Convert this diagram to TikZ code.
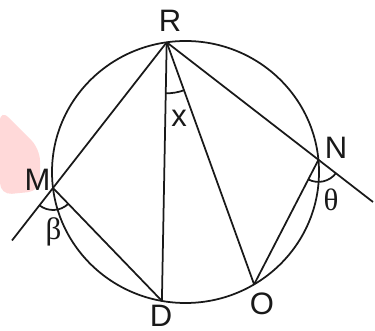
\documentclass[tikz,border=0pt]{standalone}
\usepackage{fontspec}
\setmainfont{Liberation Sans}
\newfontfamily\greekfont{Liberation Serif}
\usetikzlibrary{angles}
\tikzset{
  geo/.style={line width=1.75pt, black!90},
  lbl/.style={inner sep=0pt, text=black!90, font=\fontsize{31}{31}\selectfont},
  glbl/.style={inner sep=0pt, text=black!90, font=\fontsize{31}{31}\selectfont\greekfont},
  ang/.style={draw=black!90, line width=1.75pt}
}
\begin{document}
\begin{tikzpicture}[x=1pt,y=1pt]
\useasboundingbox (0,0) rectangle (375,331);
% faint watermark blob
\fill[red!15, rounded corners=12pt] (0,222) -- (40,182) -- (40,140) -- (0,136) -- cycle;
% circle
\coordinate (C) at (185.5,159);
\draw[geo] (C) ellipse [x radius=133.5pt, y radius=131pt];
% points
\coordinate (R) at (166.7,288.7);
\coordinate (M) at (53.0,143.0);
\coordinate (D) at (161.9,30.1);
\coordinate (O) at (254.1,46.6);
\coordinate (N) at (318.4,171.1);
\coordinate (E1) at (12,90.5);
\coordinate (E2) at (373,129);
% chords
\draw[geo] (R) -- (E1);
\draw[geo] (R) -- (E2);
\draw[geo] (R) -- (D);
\draw[geo] (R) -- (O);
\draw[geo] (M) -- (D);
\draw[geo] (N) -- (O);
% angle arcs
\pic[ang, angle radius=51pt] {angle = D--R--O};
\pic[ang, angle radius=22pt] {angle = E1--M--D};
\pic[ang, angle radius=22pt] {angle = O--N--E2};
% labels
\node[lbl] (lR) at (170,310.5) {R};
\node[lbl] (lM) at (37.5,151) {M};
\node[lbl] (lD) at (161,15) {D};
\node[lbl] (lO) at (262,27) {O};
\node[lbl] (lN) at (336,183.5) {N};
\node[lbl] (lx) at (179,212.5) {x};
\node[glbl] (lb) at (53.5,99) {β};
\node[glbl] (lt) at (331,131) {θ};
\end{tikzpicture}
\end{document}
